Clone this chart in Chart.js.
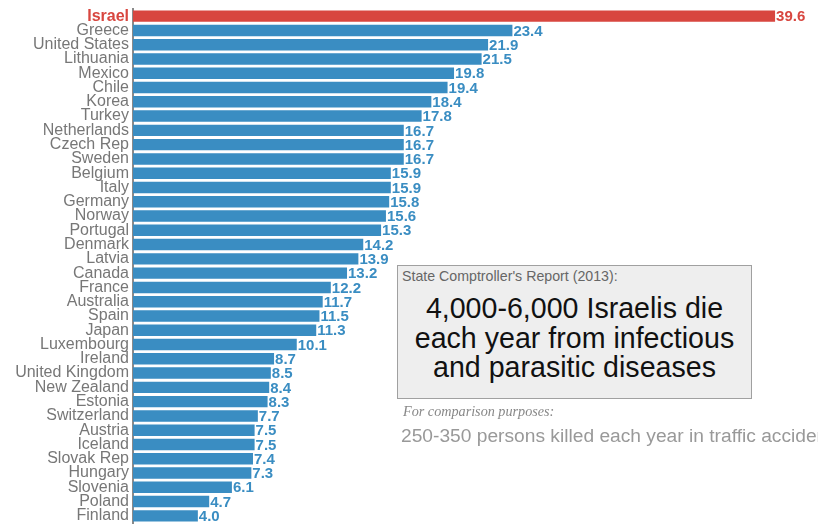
<!DOCTYPE html>
<html>
<head>
<meta charset="utf-8">
<script src="https://cdn.jsdelivr.net/npm/chart.js@4/dist/chart.umd.min.js"></script>
<style>
  html, body { margin: 0; padding: 0; background: #fff; overflow: hidden; }
  #wrap { position: relative; width: 818px; height: 524px; overflow: hidden; }
  #box {
    position: absolute; left: 397px; top: 265px; width: 353px; height: 132px;
    background: #eeeeee; border: 1px solid #a0a0a0; box-sizing: content-box;
    font-family: "Liberation Sans", Arial, sans-serif;
  }
  #box .src { position: absolute; left: 4px; top: 2px; font-size: 14.2px; color: #666; white-space: nowrap; }
  #box .big { position: absolute; left: 0; right: 0; top: 28px; text-align: center; font-size: 28.6px; line-height: 29.5px; color: #111; white-space: nowrap; }
  #cmp { position: absolute; left: 403px; top: 403px; font-family: "Liberation Serif", serif; font-style: italic; font-size: 14.2px; color: #888; white-space: nowrap; }
  #traffic { position: absolute; left: 401px; top: 425px; font-family: "Liberation Sans", Arial, sans-serif; font-size: 19.2px; color: #999; white-space: nowrap; }
</style>
</head>
<body>
<div id="wrap">
  <canvas id="c" width="818" height="524"></canvas>
  <div id="box">
    <div class="src">State Comptroller's Report (2013):</div>
    <div class="big">4,000-6,000 Israelis die<br>each year from infectious<br>and parasitic diseases</div>
  </div>
  <div id="cmp">For comparison purposes:</div>
  <div id="traffic">250-350 persons killed each year in traffic accidents</div>
</div>
<script>
const countries = ["Israel","Greece","United States","Lithuania","Mexico","Chile","Korea","Turkey","Netherlands","Czech Rep","Sweden","Belgium","Italy","Germany","Norway","Portugal","Denmark","Latvia","Canada","France","Australia","Spain","Japan","Luxembourg","Ireland","United Kingdom","New Zealand","Estonia","Switzerland","Austria","Iceland","Slovak Rep","Hungary","Slovenia","Poland","Finland"];
const rates = [39.6,23.4,21.9,21.5,19.8,19.4,18.4,17.8,16.7,16.7,16.7,15.9,15.9,15.8,15.6,15.3,14.2,13.9,13.2,12.2,11.7,11.5,11.3,10.1,8.7,8.5,8.4,8.3,7.7,7.5,7.5,7.4,7.3,6.1,4.7,4.0];
const highlight = "Israel";

const BLUE = "#3a8dc2";
const RED = "#d8463f";
const colorFor = i => countries[i] === highlight ? RED : BLUE;

const valueLabels = {
  id: "valueLabels",
  afterDatasetsDraw(chart) {
    const ctx = chart.ctx;
    const meta = chart.getDatasetMeta(0);
    ctx.save();
    ctx.font = "bold 15px 'Liberation Sans', Arial, sans-serif";
    ctx.textAlign = "left";
    ctx.textBaseline = "middle";
    meta.data.forEach((bar, i) => {
      ctx.fillStyle = colorFor(i);
      ctx.fillText(rates[i].toFixed(1), bar.x + 1, bar.y + 1);
    });
    ctx.restore();
  }
};

new Chart(document.getElementById("c"), {
  type: "bar",
  data: {
    labels: countries,
    datasets: [{
      data: rates,
      backgroundColor: countries.map((c, i) => colorFor(i)),
      borderWidth: 0,
      categoryPercentage: 1.0,
      barPercentage: 0.8
    }]
  },
  options: {
    indexAxis: "y",
    responsive: false,
    animation: false,
    layout: { padding: { top: 9, bottom: 1, left: 0, right: 4 } },
    plugins: { legend: { display: false }, tooltip: { enabled: false } },
    scales: {
      x: {
        display: false,
        min: 0,
        max: 42
      },
      y: {
        afterFit(scale) { scale.width = 133; scale.paddingTop = 0; scale.paddingBottom = 0; },
        grid: { display: false, drawTicks: false },
        border: { display: true, color: "#8a8a8a", width: 2 },
        ticks: {
          autoSkip: false,
          padding: 4,
          color: ctx => countries[ctx.index] === highlight ? RED : "#777777",
          font: ctx => ({
            family: "'Liberation Sans', Arial, sans-serif",
            size: 16,
            weight: countries[ctx.index] === highlight ? "bold" : "normal",
            lineHeight: 1
          })
        }
      }
    }
  },
  plugins: [valueLabels]
});
</script>
</body>
</html>
